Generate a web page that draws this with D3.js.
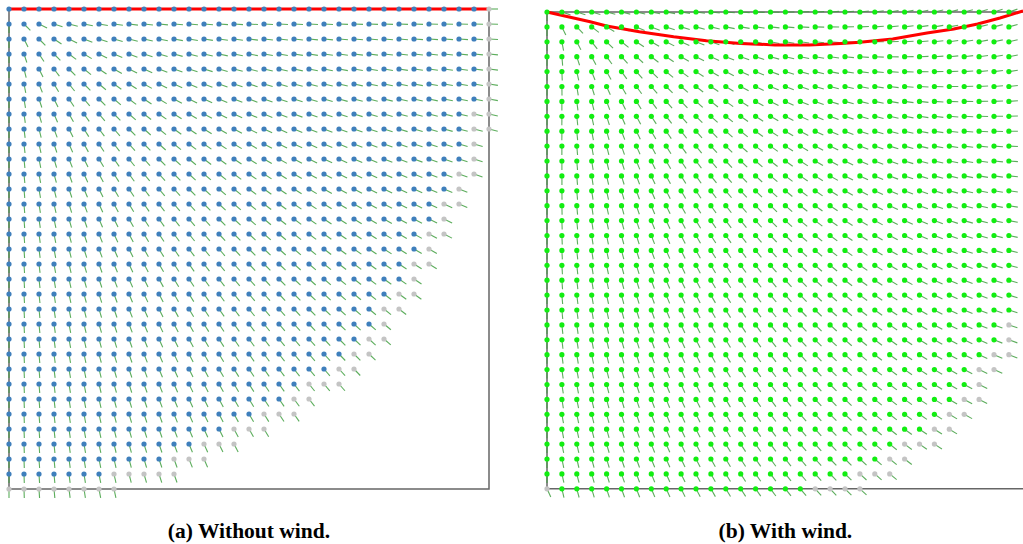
<!DOCTYPE html>
<html>
<head>
<meta charset="utf-8">
<script src="https://cdnjs.cloudflare.com/ajax/libs/d3/7.8.5/d3.min.js"></script>
<style>
  body { margin: 0; background: #fff; }
  text { font-family: "Liberation Serif", "Times New Roman", serif; font-weight: bold; }
</style>
</head>
<body>
<svg width="1023" height="544"></svg>
<script>
// grid of 33 x 33 cells, row 0 = top
const gridMax = 32

// (a) without wind: last occupied column per row, and first grey column per row
const lastColA  = [32,32,32,32,32,32,32,32,32,31,31,31,30,30,29,29,28,28,27,27,26,25,25,24,23,22,20,19,17,15,13,11,7]
const grayFromA = [32,32,32,32,32,32,32,31,31,31,31,30,30,29,29,28,28,27,27,26,25,25,24,23,22,20,19,17,15,13,11,7,0]
const surfaceAx = [0, 32]
const surfaceAy = [0, 0]
const fieldOriginA = [0, 0]

// (b) with wind
const lastColB  = [31,31,31,31,31,31,31,31,31,31,31,31,31,31,31,31,31,31,31,31,31,31,31,31,30,29,29,28,27,26,24,23,21]
const grayFromB = [99,99,99,99,99,99,99,99,99,99,99,99,99,99,99,99,99,99,99,99,99,31,31,30,29,29,28,27,26,24,23,21,18]
const grayExtraB = [[0, 32]]
const surfaceBx = [0, 2.9, 4.0, 6.2, 8.5, 10.7, 13.0, 15.3, 17.6, 19.7, 21.0, 23.2, 25.5, 27.3, 28.9, 30.4, 31.95]
const surfaceBy = [0, 0.65, 0.94, 1.32, 1.66, 1.93, 2.11, 2.21, 2.21, 2.11, 2.03, 1.81, 1.41, 1.14, 0.81, 0.40, -0.07]
const fieldOriginB = [0, 0]
const gyreCenterB = [16, 16]
const gyreStrengthB = 0.0165

const captions = ["(a) Without wind.", "(b) With wind."]

const svg = d3.select("svg")
const arrowLen = 9

function dirA(i, j) {
    let dx = i - fieldOriginA[0], dy = j - fieldOriginA[1]
    let n = Math.hypot(dx, dy)
    return n ? [dx / n, dy / n] : null
}
function dirB(i, j) {
    if (i == 0) return j < gridMax ? [0, 1] : [0.42, 0.9]
    let dx = i - fieldOriginB[0], dy = j - fieldOriginB[1]
    let n = Math.hypot(dx, dy)
    let vx = dx / n + gyreStrengthB * (j - gyreCenterB[1])
    let vy = dy / n - gyreStrengthB * (i - gyreCenterB[0])
    let m = Math.hypot(vx, vy)
    return [vx / m, vy / m]
}

function buildPoints(lastCol, grayFrom, extraGray) {
    let pts = []
    lastCol.forEach((last, j) => {
        for (let i = 0; i <= last; i++) {
            let gray = i >= grayFrom[j] || (extraGray || []).some(g => g[0] == i && g[1] == j)
            pts.push({i: i, j: j, gray: gray})
        }
    })
    return pts
}

function drawPanel(cfg) {
    let x = d3.scaleLinear().domain([0, gridMax]).range(cfg.rangeX)
    let y = d3.scaleLinear().domain([0, gridMax]).range(cfg.rangeY)
    let g = svg.append("g")

    // frame
    let fx0 = x(0), fx1 = x(gridMax), fy0 = y(0), fy1 = y(gridMax)
    g.append("path")
        .attr("d", cfg.closed
            ? `M${fx0},${fy0}H${fx1}V${fy1}H${fx0}Z`
            : `M${fx1},${fy0}H${fx0}V${fy1}H${fx1}`)
        .attr("fill", "none").attr("stroke", "#666").attr("stroke-width", 1.5)

    let pts = buildPoints(cfg.lastCol, cfg.grayFrom, cfg.extraGray)

    // arrows
    g.append("g").attr("class", "gArrows")
        .selectAll("line")
        .data(pts.filter(d => cfg.dir(d.i, d.j)))
        .enter().append("line")
        .attr("x1", d => x(d.i)).attr("y1", d => y(d.j))
        .attr("x2", d => x(d.i) + arrowLen * cfg.dir(d.i, d.j)[0])
        .attr("y2", d => y(d.j) + arrowLen * cfg.dir(d.i, d.j)[1])
        .attr("stroke", "#3f9f3f").attr("stroke-width", 1.1).attr("stroke-opacity", 0.85)

    // free surface
    let line = d3.line().x(d => x(d[0])).y(d => y(d[1]))
    g.append("path")
        .attr("d", line(d3.zip(cfg.surfX, cfg.surfY)))
        .attr("fill", "none").attr("stroke", "#ff0000").attr("stroke-width", 3)

    // particles
    g.append("g").attr("class", "gPoints")
        .selectAll("circle")
        .data(pts)
        .enter().append("circle")
        .attr("cx", d => x(d.i)).attr("cy", d => y(d.j))
        .attr("r", 2.6)
        .attr("fill", d => d.gray ? "#c4c4c4" : cfg.color)

    g.append("text")
        .attr("x", (fx0 + fx1) / 2).attr("y", 538)
        .attr("text-anchor", "middle").attr("font-size", 21.5)
        .text(cfg.caption)
}

drawPanel({
    rangeX: [9, 489], rangeY: [9, 489], closed: true,
    lastCol: lastColA, grayFrom: grayFromA, dir: dirA,
    surfX: surfaceAx, surfY: surfaceAy, color: "#3f7fbc", caption: captions[0]
})
drawPanel({
    rangeX: [547, 547 + 32 * 14.9], rangeY: [12, 12 + 32 * 14.9], closed: false,
    lastCol: lastColB, grayFrom: grayFromB, extraGray: grayExtraB, dir: dirB,
    surfX: surfaceBx, surfY: surfaceBy, color: "#11ee11", caption: captions[1]
})
</script>
</body>
</html>
